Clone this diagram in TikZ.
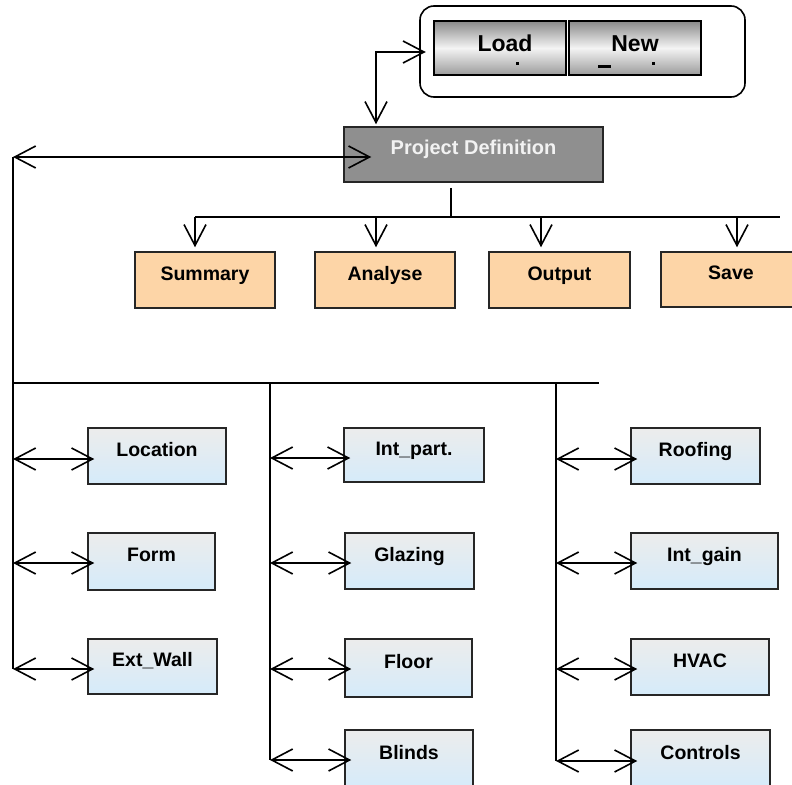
\documentclass[tikz,border=0pt]{standalone}
\usepackage{fontspec}
\setmainfont{Liberation Sans}
\usetikzlibrary{arrows.meta}
\definecolor{peach}{HTML}{FDD5A7}
\definecolor{pdgray}{HTML}{8F8F8F}
\definecolor{bluetop}{HTML}{ECECEC}
\definecolor{bluebot}{HTML}{D5EBFA}
\definecolor{btnmid}{HTML}{F4F4F4}
\definecolor{btnend}{HTML}{8A8A8A}
\tikzset{
  ln/.style={line width=1.6pt, draw=black},
  arr/.style={ln, -{Straight Barb[length=21pt,width=22pt]}},
  dbl/.style={ln, {Straight Barb[length=21pt,width=22pt]}-{Straight Barb[length=21pt,width=22pt]}},
  box/.style={draw=black!85, line width=1.5pt, inner sep=0pt, text height=14pt, text depth=14pt,
    font=\fontsize{19.5}{22}\selectfont\bfseries},
  bluebox/.style={box, top color=bluetop, bottom color=bluebot},
  orbox/.style={box, fill=peach},
  pdbox/.style={box, fill=pdgray, text=white!95!black, font=\fontsize{20}{22}\selectfont\bfseries},
  btn/.style={draw=black, line width=2.5pt, inner sep=0pt, top color=btnend, bottom color=btnend!85!white,
    middle color=btnmid, text height=17pt, text depth=9pt, font=\fontsize{23}{26}\selectfont\bfseries},
  menu/.style={draw=black, line width=1.6pt, rounded corners=14pt, inner sep=0pt},
  tickmark/.style={fill=black, draw=none}
}
\begin{document}
\begin{tikzpicture}[x=1pt,y=-1pt]
\useasboundingbox (0,0) rectangle (792,784);

% top menu
\node[menu, minimum width=325pt, minimum height=91pt] (menu) at (582.5,51.5) {};
\node[btn, minimum width=132pt, minimum height=54pt] (load) at (500,48) {\hspace*{10pt}Load};
\node[btn, minimum width=132pt, minimum height=54pt] (new) at (635,48) {New};
\fill[tickmark] (515.5,62) rectangle (519,65.5);
\fill[tickmark] (598,65) rectangle (610.5,68.5);
\fill[tickmark] (651.5,62) rectangle (655,65.5);

% project definition
\node[pdbox, minimum width=259pt, minimum height=55pt] (pd) at (473.5,154.5) {Project Definition};

% orange boxes
\node[orbox, minimum width=140pt, minimum height=56pt] (sum) at (205,280) {Summary};
\node[orbox, minimum width=140pt, minimum height=56pt] (ana) at (385,280) {Analyse};
\node[orbox, minimum width=141pt, minimum height=56pt] (out) at (559.5,280) {Output};
\node[orbox, minimum width=140pt, minimum height=55pt] (sav) at (731,279.5) {Save};

% blue boxes, left column
\node[bluebox, minimum width=138pt, minimum height=56pt] (loc) at (157,456) {Location};
\node[bluebox, minimum width=127pt, minimum height=57pt] (form) at (151.5,561.5) {Form};
\node[bluebox, minimum width=129pt, minimum height=55pt] (ext) at (152.5,666.5) {Ext\_Wall};
% middle column
\node[bluebox, minimum width=140pt, minimum height=54pt] (intp) at (414,455) {Int\_part.};
\node[bluebox, minimum width=129pt, minimum height=56pt] (glz) at (409.5,561) {Glazing};
\node[bluebox, minimum width=127pt, minimum height=58pt] (flr) at (408.5,668) {Floor};
\node[bluebox, minimum width=128pt, minimum height=58pt] (bln) at (409,759) {Blinds};
% right column
\node[bluebox, minimum width=129pt, minimum height=56pt] (roof) at (695.5,456) {Roofing};
\node[bluebox, minimum width=147pt, minimum height=56pt] (igain) at (704.5,561) {Int\_gain};
\node[bluebox, minimum width=138pt, minimum height=56pt] (hvac) at (700,667) {HVAC};
\node[bluebox, minimum width=139pt, minimum height=58pt] (ctrl) at (700.5,759) {Controls};

% coordinates of the trunk lines
\coordinate (lt) at (13,157);
\coordinate (lb) at (13,669);
\coordinate (hl) at (13,383);
\coordinate (hr) at (599,383);
\coordinate (mt) at (270,383);
\coordinate (mb) at (270,760);
\coordinate (rt) at (556,383);
\coordinate (rb) at (556,761);
\coordinate (st) at (451,217);
\coordinate (ol) at (195,217);
\coordinate (or) at (780,217);

% project definition <-> load
\draw[dbl] ([shift={(-7,4)}]load.west) -| ([shift={(-97.5,-2)}]pd.north);
% project definition <-> left trunk
\draw[dbl] (lt) -- ([shift={(28,2.5)}]pd.west);
\draw[ln] (lt) -- (lb);
% project definition -> outputs
\draw[ln] ([shift={(-22.5,5)}]pd.south) -- (st);
\draw[ln] (ol) -- (or);
\draw[arr] ([xshift=-10pt]sum.north |- ol) -- ([shift={(-10,-4)}]sum.north);
\draw[arr] ([xshift=-9pt]ana.north |- ol) -- ([shift={(-9,-4)}]ana.north);
\draw[arr] ([xshift=-18.5pt]out.north |- ol) -- ([shift={(-18.5,-4)}]out.north);
\draw[arr] ([xshift=6pt]sav.north |- ol) -- ([shift={(6,-4)}]sav.north);

% component trunks
\draw[ln] (hl) -- (hr);
\draw[ln] (mt) -- (mb);
\draw[ln] (rt) -- (rb);

% component connectors
\coordinate (aloc) at (13,459);
\coordinate (aform) at (13,563);
\coordinate (aext) at (13,669);
\coordinate (aintp) at (270,458);
\coordinate (aglz) at (270,563);
\coordinate (aflr) at (270,669);
\coordinate (abln) at (270,760);
\coordinate (aroof) at (556,459);
\coordinate (aigain) at (556,563);
\coordinate (ahvac) at (556,669);
\coordinate (actrl) at (556,761);
\draw[dbl] (aloc) -- ([shift={(7,3)}]loc.west);
\draw[dbl] (aform) -- ([shift={(7,1.5)}]form.west);
\draw[dbl] (aext) -- ([shift={(7,2.5)}]ext.west);
\draw[dbl] (aintp) -- ([shift={(7,3)}]intp.west);
\draw[dbl] (aglz) -- ([shift={(7,2)}]glz.west);
\draw[dbl] (aflr) -- ([shift={(7,1)}]flr.west);
\draw[dbl] (abln) -- ([shift={(7,1)}]bln.west);
\draw[dbl] (aroof) -- ([shift={(7,3)}]roof.west);
\draw[dbl] (aigain) -- ([shift={(7,2)}]igain.west);
\draw[dbl] (ahvac) -- ([shift={(7,2)}]hvac.west);
\draw[dbl] (actrl) -- ([shift={(7,2)}]ctrl.west);
\end{tikzpicture}
\end{document}
